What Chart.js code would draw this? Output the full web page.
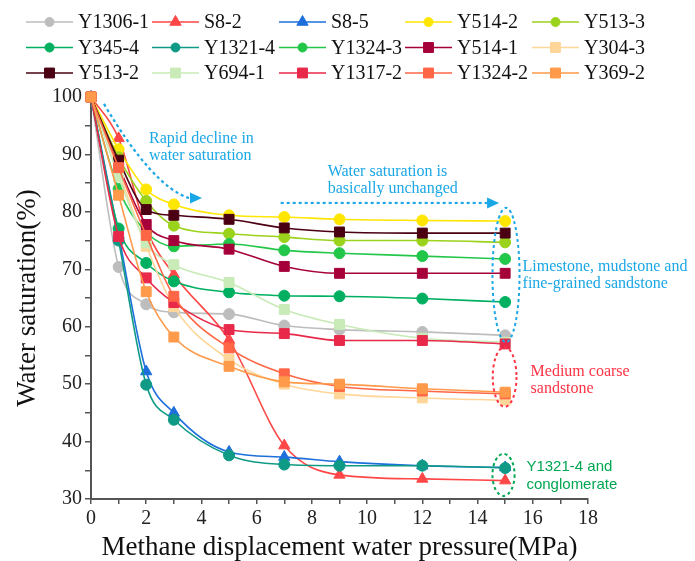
<!DOCTYPE html>
<html>
<head>
<meta charset="utf-8">
<script src="https://cdn.jsdelivr.net/npm/chart.js@4.4.1/dist/chart.umd.min.js"></script>
<style>
  html, body { margin: 0; padding: 0; background: #fff; }
  #wrap { width: 695px; height: 561px; }
</style>
</head>
<body>
<div id="wrap"><canvas id="chartSaturation"></canvas></div>
<script>
// DATA
var pressure = [0, 1, 2, 3, 5, 7, 9, 12, 15];

var sampleNames = ['Y1306-1', 'S8-2', 'S8-5', 'Y514-2', 'Y513-3',
                   'Y345-4', 'Y1321-4', 'Y1324-3', 'Y514-1', 'Y304-3',
                   'Y513-2', 'Y694-1', 'Y1317-2', 'Y1324-2', 'Y369-2'];

var y1306_1 = [100, 70.4, 63.9, 62.5, 62.2, 60.2, 59.5, 59.1, 58.5];
var s8_2    = [100, 92.8, 77.0, 69.1, 57.7, 39.3, 34.2, 33.5, 33.2];
var s8_5    = [100, 76.0, 52.2, 45.0, 38.2, 37.3, 36.5, 35.8, 35.5];
var y514_2  = [100, 90.9, 83.9, 81.3, 79.4, 79.1, 78.7, 78.5, 78.4];
var y513_3  = [100, 89.5, 81.9, 77.6, 76.2, 75.6, 75.0, 75.0, 74.7];
var y345_4  = [100, 77.1, 71.1, 67.9, 66.0, 65.4, 65.3, 64.9, 64.3];
var y1321_4 = [100, 75.0, 49.9, 43.8, 37.6, 36.0, 35.8, 35.8, 35.4];
var y1324_3 = [100, 84.0, 76.5, 74.0, 74.4, 73.3, 72.8, 72.3, 71.8];
var y514_1  = [100, 88.0, 77.8, 75.0, 73.5, 70.5, 69.3, 69.3, 69.3];
var y304_3  = [100, 87.0, 74.0, 63.5, 54.3, 50.0, 48.3, 47.6, 47.2];
var y513_2  = [100, 89.0, 80.4, 79.4, 78.7, 77.2, 76.5, 76.3, 76.3];
var y694_1  = [100, 86.1, 74.6, 70.8, 67.7, 63.0, 60.4, 58.0, 57.3];
var y1317_2 = [100, 75.7, 68.5, 64.2, 59.5, 58.8, 57.6, 57.6, 57.0];
var y1324_2 = [100, 87.7, 75.9, 65.3, 56.3, 51.8, 49.6, 48.8, 48.3];
var y369_2  = [100, 82.9, 66.1, 58.2, 53.1, 50.4, 50.0, 49.2, 48.6];

var seriesValues = [y1306_1, s8_2, s8_5, y514_2, y513_3, y345_4, y1321_4, y1324_3,
                    y514_1, y304_3, y513_2, y694_1, y1317_2, y1324_2, y369_2];

var xTicks = [0, 2, 4, 6, 8, 10, 12, 14, 16, 18];
var yTicks = [30, 40, 50, 60, 70, 80, 90, 100];

// STYLE
var colors = ['#bdbdbd', '#ff4747', '#1d6fdc', '#ffe600', '#9bd21c',
              '#00b060', '#0f9a86', '#22c74a', '#a6003a', '#ffd699',
              '#4a0012', '#c9ebb8', '#e8294a', '#ff6645', '#ff9a4a'];
var markers = ['circle', 'triangle', 'triangle', 'circle', 'circle',
               'circle', 'circle', 'circle', 'rect', 'rect',
               'rect', 'rect', 'rect', 'rect', 'rect'];

var serif = "'Liberation Serif', 'Times New Roman', serif";
var cyan = '#1aa7e6', redNote = '#ff3344', greenNote = '#00a651';

function pointRadius(style) {
  return style === 'rect' ? 7 : (style === 'triangle' ? 6.5 : 5.5);
}

var datasets = sampleNames.map(function (name, i) {
  return {
    label: name,
    data: pressure.map(function (p, k) { return { x: p, y: seriesValues[i][k] }; }),
    borderColor: colors[i],
    backgroundColor: colors[i],
    pointBackgroundColor: colors[i],
    pointBorderColor: colors[i],
    pointBorderWidth: 1,
    pointStyle: markers[i],
    pointRadius: pointRadius(markers[i]),
    borderWidth: 1.6,
    cubicInterpolationMode: 'monotone',
    clip: false,
    order: sampleNames.length - 1 - i
  };
});

// legend drawn in a 5 x 3 grid above the plot
var legendGrid = {
  id: 'legendGrid',
  afterDraw: function (chart) {
    var ctx = chart.ctx;
    var colX = [26, 152, 279, 405, 532];
    var rowY = [22, 47.5, 73];
    ctx.save();
    chart.data.datasets.forEach(function (ds, i) {
      var x0 = colX[i % 5], y0 = rowY[Math.floor(i / 5)];
      ctx.strokeStyle = ds.borderColor;
      ctx.lineWidth = 1.6;
      ctx.beginPath();
      ctx.moveTo(x0, y0);
      ctx.lineTo(x0 + 47, y0);
      ctx.stroke();
      ctx.fillStyle = ds.pointBackgroundColor;
      ctx.strokeStyle = ds.pointBorderColor;
      ctx.lineWidth = 1;
      var r = ds.pointStyle === 'circle' ? 4.5 : ds.pointRadius;
      Chart.helpers.drawPoint(ctx, { pointStyle: ds.pointStyle, radius: r, rotation: 0, borderWidth: 1 }, x0 + 23.5, y0);
      ctx.fillStyle = '#111';
      ctx.font = '20px ' + serif;
      ctx.textAlign = 'left';
      ctx.textBaseline = 'middle';
      ctx.fillText(ds.label, x0 + 52, y0 + 1);
    });
    ctx.restore();
  }
};

// notes, arrows and ellipses
var notes = {
  id: 'notes',
  afterDraw: function (chart) {
    var ctx = chart.ctx, xs = chart.scales.x, ys = chart.scales.y;
    function px(v) { return xs.getPixelForValue(v); }
    function py(v) { return ys.getPixelForValue(v); }
    function text(str, x, y, color, font) {
      ctx.fillStyle = color;
      ctx.font = font;
      ctx.textAlign = 'left';
      ctx.textBaseline = 'middle';
      ctx.fillText(str, px(x), py(y));
    }
    function head(x, y, color) {
      ctx.setLineDash([]);
      ctx.fillStyle = color;
      ctx.beginPath();
      ctx.moveTo(px(x), py(y));
      ctx.lineTo(px(x) - 12, py(y) - 5.5);
      ctx.lineTo(px(x) - 12, py(y) + 5.5);
      ctx.closePath();
      ctx.fill();
    }
    function ellipse(cx, cy, rx, ry, color) {
      ctx.strokeStyle = color;
      ctx.lineWidth = 2;
      ctx.setLineDash([3, 3]);
      ctx.beginPath();
      ctx.ellipse(px(cx), py(cy), Math.abs(px(cx + rx) - px(cx)), Math.abs(py(cy + ry) - py(cy)), 0, 0, Math.PI * 2);
      ctx.stroke();
    }
    ctx.save();
    ctx.strokeStyle = cyan;
    ctx.lineWidth = 2.2;
    ctx.setLineDash([3, 3]);
    ctx.beginPath();
    ctx.moveTo(px(0.47), py(98.8));
    ctx.quadraticCurveTo(px(2.24), py(84.4), px(3.55), py(82.4));
    ctx.stroke();
    head(4.02, 82.4, cyan);

    ctx.strokeStyle = cyan;
    ctx.setLineDash([3, 3]);
    ctx.beginPath();
    ctx.moveTo(px(6.87), py(81.55));
    ctx.lineTo(px(14.35), py(81.55));
    ctx.stroke();
    head(14.78, 81.55, cyan);

    var noteFont = '16px ' + serif;
    text('Rapid decline in', 2.1, 92.7, cyan, noteFont);
    text('water saturation', 2.1, 89.7, cyan, noteFont);
    text('Water saturation is', 8.57, 86.9, cyan, noteFont);
    text('basically unchanged', 8.57, 83.95, cyan, noteFont);

    ellipse(15.03, 69.0, 0.49, 11.7, cyan);
    text('Limestone, mudstone and', 15.63, 70.4, cyan, noteFont);
    text('fine-grained sandstone', 15.63, 67.45, cyan, noteFont);

    ellipse(14.98, 51.25, 0.43, 5.2, redNote);
    text('Medium coarse', 15.92, 52.1, redNote, noteFont);
    text('sandstone', 15.92, 49.15, redNote, noteFont);

    ellipse(14.94, 34.2, 0.4, 3.66, greenNote);
    var sansFont = "15px 'Liberation Sans', Arial, sans-serif";
    text('Y1321-4 and', 15.77, 35.55, greenNote, sansFont);
    text('conglomerate', 15.77, 32.45, greenNote, sansFont);
    ctx.restore();
  }
};

new Chart(document.getElementById('chartSaturation'), {
  type: 'line',
  data: { datasets: datasets },
  options: {
    responsive: true,
    maintainAspectRatio: false,
    animation: false,
    layout: { padding: { top: 97, right: 107, left: 0, bottom: 0 } },
    plugins: {
      legend: { display: false },
      tooltip: { enabled: false },
      title: { display: false }
    },
    scales: {
      x: {
        type: 'linear',
        min: 0,
        max: 18,
        afterBuildTicks: function (s) {
          s.ticks = [];
          for (var v = 0; v <= 18; v++) s.ticks.push({ value: v });
        },
        ticks: {
          autoSkip: false,
          maxRotation: 0,
          padding: 3,
          color: '#222',
          font: { family: serif, size: 20 },
          callback: function (v) { return xTicks.indexOf(v) >= 0 ? String(v) : ''; }
        },
        grid: { drawOnChartArea: false, drawTicks: true, tickLength: 5, color: '#555', lineWidth: 1.5 },
        border: { color: '#555', width: 2 },
        title: {
          display: true,
          text: 'Methane displacement water pressure(MPa)',
          color: '#111',
          font: { family: serif, size: 27, lineHeight: 1 },
          padding: { top: 0, bottom: 0 }
        },
        afterFit: function (s) { s.height = 62; }
      },
      y: {
        min: 30,
        max: 100,
        afterBuildTicks: function (s) {
          s.ticks = [];
          for (var v = 30; v <= 100; v += 5) s.ticks.push({ value: v });
        },
        ticks: {
          autoSkip: false,
          padding: 3,
          color: '#222',
          font: { family: serif, size: 20 },
          callback: function (v) { return yTicks.indexOf(v) >= 0 ? String(v) : ''; }
        },
        grid: { drawOnChartArea: false, drawTicks: true, tickLength: 6, color: '#555', lineWidth: 1.5 },
        border: { color: '#555', width: 2 },
        title: {
          display: true,
          text: 'Water saturation(%)',
          color: '#111',
          font: { family: serif, size: 27, lineHeight: 1 },
          padding: { top: 14, bottom: 0 }
        },
        afterFit: function (s) { s.width = 91; }
      }
    }
  },
  plugins: [legendGrid, notes]
});
</script>
</body>
</html>
